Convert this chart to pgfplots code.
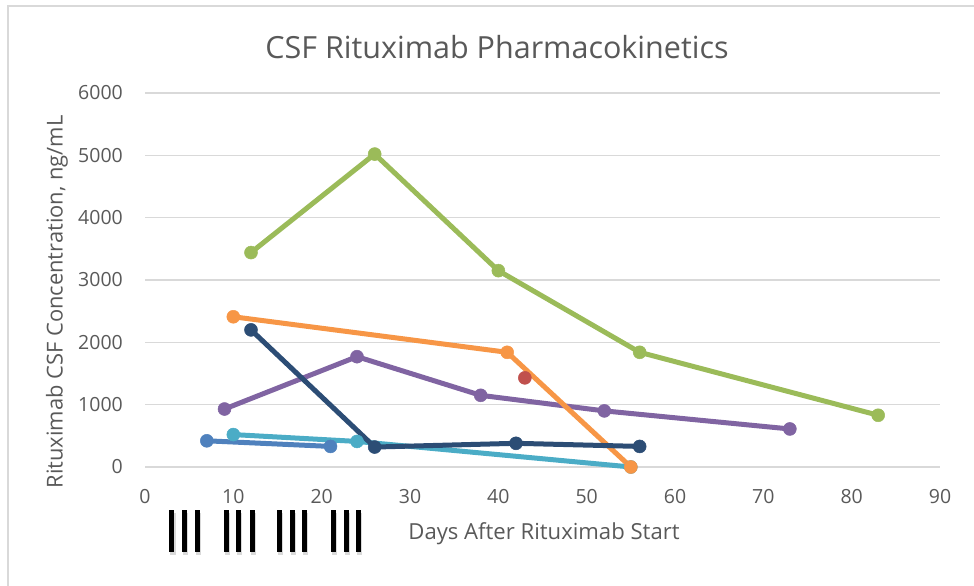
\documentclass[border=0pt]{standalone}
\usepackage{pgfplots}
\pgfplotsset{compat=1.18}
\usepackage{fontspec}
\setmainfont{Open Sans}
\definecolor{cgreen}{HTML}{9BBB59}
\definecolor{corange}{HTML}{F79646}
\definecolor{cpurple}{HTML}{8064A2}
\definecolor{caqua}{HTML}{4BACC6}
\definecolor{cblue}{HTML}{4F81BD}
\definecolor{cred}{HTML}{C0504D}
\definecolor{cdark}{HTML}{2C4D75}
\definecolor{gridgray}{HTML}{D9D9D9}
\definecolor{labelgray}{HTML}{595959}
\begin{document}
\begin{tikzpicture}[x=1bp,y=1bp]
\useasboundingbox (0,0) rectangle (974,586);
\draw[color=gridgray, line width=1.5bp] (8,0) -- (8,580) -- (974,580);
\begin{axis}[
  at={(145bp,119bp)}, anchor=south west,
  scale only axis, width=795bp, height=374bp,
  xmin=0, xmax=90, ymin=0, ymax=6000,
  xtick={0,10,...,90}, ytick={0,1000,...,6000},
  axis line style={draw=none},
  major tick length=0pt,
  ymajorgrids,
  grid style={draw=gridgray, line width=1.3bp},
  tick label style={font=\fontsize{19.5bp}{23bp}\selectfont, color=labelgray},
  /pgf/number format/assume math mode=true,
  /pgf/number format/set thousands separator={},
  xticklabel style={anchor=north, inner sep=0pt, yshift=-22bp},
  yticklabel style={anchor=east, inner sep=0pt, xshift=-22bp},
  clip=false,
  every axis plot/.append style={line width=5bp, mark=*, mark size=6.5bp, mark options={line width=0.5bp}},
]
\addplot[color=cblue] coordinates {(7,420) (21,330)};
\addplot[color=cred, only marks] coordinates {(43,1430)};
\addplot[color=cgreen] coordinates {(12,3440) (26,5020) (40,3150) (56,1840) (83,830)};
\addplot[color=cpurple] coordinates {(9,930) (24,1770) (38,1150) (52,900) (73,610)};
\addplot[color=caqua] coordinates {(10,520) (24,410) (55,0)};
\addplot[color=corange] coordinates {(10,2410) (41,1840) (55,0)};
\addplot[color=cdark] coordinates {(12,2200) (26,320) (42,380) (56,330)};
\end{axis}
\node[font=\fontsize{30.5bp}{36bp}\selectfont, color=labelgray] at (497,539) {CSF Rituximab Pharmacokinetics};
\node[font=\fontsize{21.9bp}{26bp}\selectfont, color=labelgray, rotate=90] at (57,284) {Rituximab CSF Concentration, ng/mL};
\node[font=\fontsize{22.1bp}{26bp}\selectfont, color=labelgray] at (544,52) {Days After Rituximab Start};
\foreach \x in {171.7,184,197.3,226,238,252,279,292,304,333,346,358} {
  \fill[black, opacity=0.15] (\x-2.5+1,31) rectangle ++(5.5,42);
  \fill[black] (\x-2.5,34) rectangle ++(5,42);
}
\end{tikzpicture}
\end{document}
